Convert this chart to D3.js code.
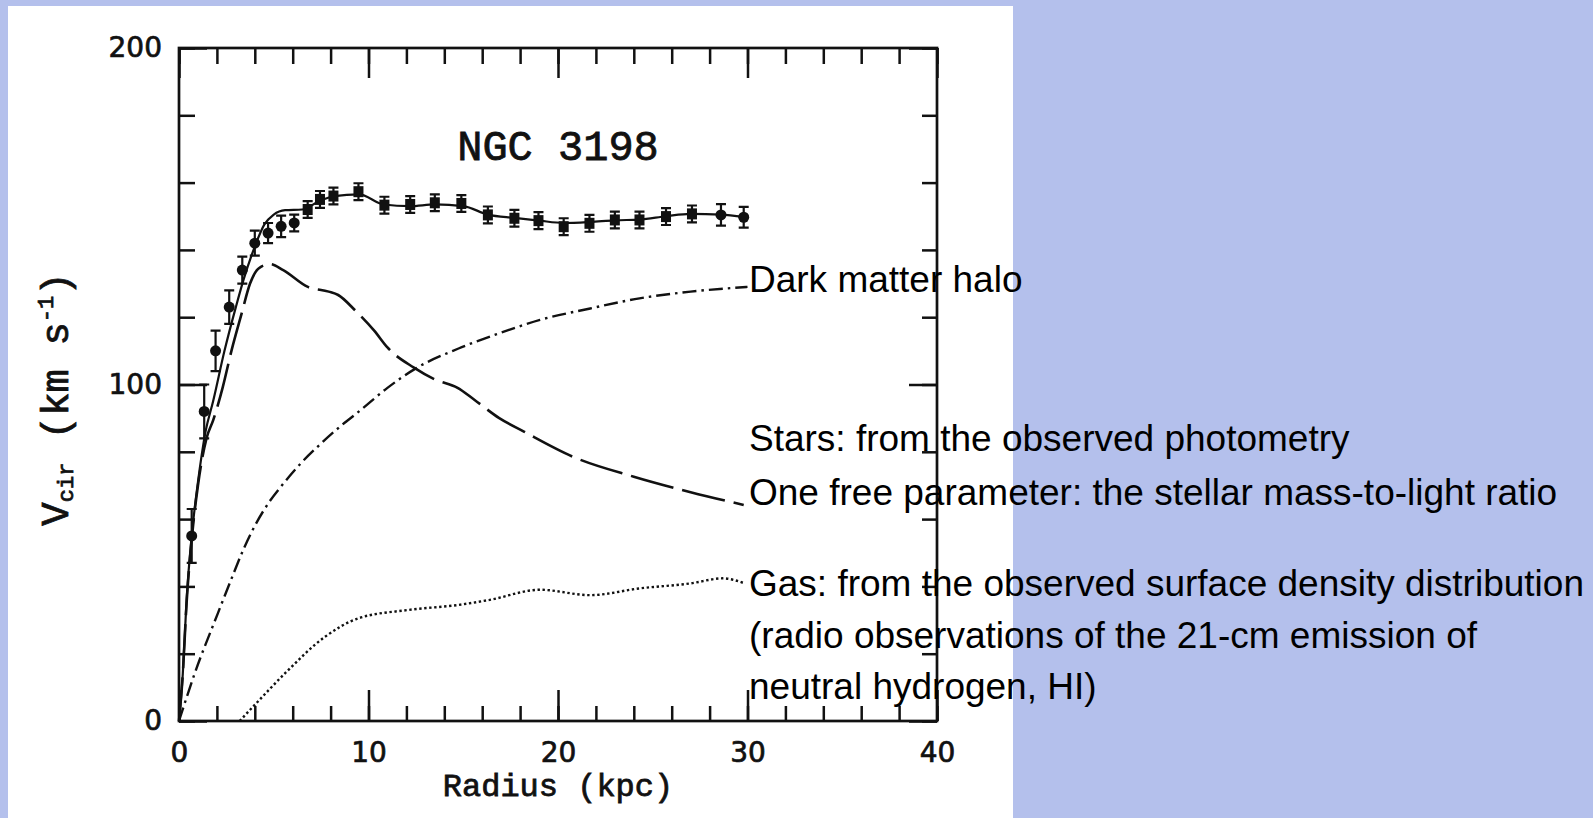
<!DOCTYPE html>
<html>
<head>
<meta charset="utf-8">
<script src="https://cdn.jsdelivr.net/npm/d3@7/dist/d3.min.js"></script>
<style>
  html, body { margin: 0; padding: 0; background: #b4c0ec; }
  svg { display: block; }
</style>
</head>
<body>
<script>
// observed rotation curve of NGC 3198 (radius in kpc, velocity in km/s)
const obsR = [0.67, 1.33, 1.93, 2.65, 3.34, 4.0, 4.7, 5.39, 6.08,
  6.79, 7.44, 8.15, 9.47, 10.84, 12.2, 13.5, 14.9, 16.3, 17.7, 18.97, 20.3,
  21.66, 23.0, 24.3, 25.7, 27.07, 28.6, 29.8]
const obsV = [55, 92, 110, 123, 134, 142, 145, 147, 148,
  152, 155, 156, 157.3, 153.3, 153.5, 154, 153.8, 150.4, 149.4, 148.7, 146.9,
  147.9, 148.9, 148.9, 149.9, 150.7, 150.4, 149.7]
const obsErr = [8, 8, 6, 5, 4, 3.7, 3, 3.2, 2.5,
  2.5, 2.5, 2.5, 2.5, 2.5, 2.5, 2.5, 2.5, 2.5, 2.5, 2.5, 2.5,
  2.5, 2.5, 2.5, 2.5, 2.5, 3.2, 3.1]
// o = circle, s = square
const obsMarker = ['o', 'o', 'o', 'o', 'o', 'o', 'o', 'o', 'o',
  's', 's', 's', 's', 's', 's', 's', 's', 's', 's', 's', 's',
  's', 's', 's', 's', 's', 'o', 'o']

// model curves
const totalR = [0, 0.2, 0.4, 0.67, 1.0, 1.4, 1.8, 2.4, 3.0, 3.4, 4.0, 4.5, 5.0, 5.6, 6.5, 7.4, 8.2, 9.5, 10.8, 12.2, 13.5, 15.0, 16.3, 17.7, 19.0, 20.3, 21.7, 23.0, 24.3, 25.7, 27.0, 28.6, 29.8]
const totalV = [0, 14, 36, 55, 71, 86, 95, 110, 123, 131, 141, 147.5, 150.5, 151.8, 152, 154.5, 156, 156.5, 153.5, 153, 153.5, 153, 150.5, 149.5, 148.7, 148, 148.3, 148.8, 149, 150, 150.7, 150.5, 149.8]

const starsR = [0, 0.2, 0.4, 0.67, 1.0, 1.45, 1.81, 2.3, 2.78, 3.3, 3.75, 4.2, 4.8, 5.5, 6.8, 7.9, 8.4, 9.3, 10.3, 11.0, 12.4, 13.5, 14.7, 15.6, 16.9, 18.2, 20.8, 24.0, 27.0, 29.8]
const starsV = [0, 14, 35, 54, 70, 84, 89.5, 99, 110.3, 121, 130, 134.5, 135.8, 134, 129, 127.6, 126.6, 122, 116, 111, 105, 101.5, 99, 95.4, 90, 86, 78.5, 72.6, 68, 64.2]

const haloR = [0, 0.82, 2.05, 2.75, 3.4, 4.0, 4.75, 5.5, 6.5, 7.5, 8.5, 9.5, 11.0, 12.5, 14.75, 16.9, 19.05, 21.7, 24.3, 27.0, 30.0]
const haloV = [0, 14, 32, 42, 51, 58, 65, 70.5, 77, 82.5, 87.5, 92, 99, 104.8, 110.7, 115.2, 119.2, 122.6, 125.6, 127.6, 129]

const gasR = [3.2, 4.0, 5.6, 7.7, 9.45, 12.1, 14.75, 16.4, 19.05, 21.7, 24.3, 27.0, 28.7, 29.8]
const gasV = [0, 4.8, 14.2, 25, 30.5, 33, 34.5, 36, 39, 37.4, 39.4, 40.9, 42.4, 41]

const xMajor = [0, 10, 20, 30, 40]
const yMajor = [0, 100, 200]

const noteLines = [
  'Dark matter halo',
  'Stars: from the observed photometry',
  'One free parameter: the stellar mass-to-light ratio',
  'Gas: from the observed surface density distribution',
  '(radio observations of the 21-cm emission of',
  'neutral hydrogen, HI)'
]

const W = 1593
const H = 818

const svg = d3.select('body').append('svg')
  .attr('width', W)
  .attr('height', H)

// white panel of the scanned figure
svg.append('rect')
  .attr('x', 8).attr('y', 6)
  .attr('width', 1005).attr('height', H - 6)
  .attr('fill', '#fff')

const x = d3.scaleLinear().domain([0, 40]).range([179, 937])
const y = d3.scaleLinear().domain([0, 200]).range([721, 48])

const ink = '#111'
const tickFont = 'DejaVu Sans, sans-serif'
const typeFont = 'Liberation Mono, Courier New, monospace'

function styleAxis (g) {
  g.select('.domain').remove()
  g.selectAll('.tick line').attr('stroke', ink).attr('stroke-width', 2.5)
  g.selectAll('.tick text')
    .attr('fill', ink)
    .attr('stroke', ink)
    .attr('stroke-width', 0.7)
    .style('font-family', tickFont)
    .style('font-size', '28px')
}

// minor ticks all point inward
svg.append('g').attr('transform', `translate(0,${y(0)})`)
  .call(d3.axisBottom(x).tickValues(d3.range(0, 41, 2)).tickSize(-15).tickFormat(''))
  .call(styleAxis)
svg.append('g').attr('transform', `translate(0,${y(200)})`)
  .call(d3.axisTop(x).tickValues(d3.range(0, 41, 2)).tickSize(-16).tickFormat(''))
  .call(styleAxis)
svg.append('g').attr('transform', `translate(${x(0)},0)`)
  .call(d3.axisLeft(y).tickValues(d3.range(0, 201, 20)).tickSize(-16).tickFormat(''))
  .call(styleAxis)
svg.append('g').attr('transform', `translate(${x(40)},0)`)
  .call(d3.axisRight(y).tickValues(d3.range(0, 201, 20)).tickSize(-15).tickFormat(''))
  .call(styleAxis)

// major ticks
svg.append('g').attr('transform', `translate(0,${y(0)})`)
  .call(d3.axisBottom(x).tickValues(xMajor).tickSize(-31).tickPadding(21).tickFormat(d3.format('d')))
  .call(styleAxis)
svg.append('g').attr('transform', `translate(0,${y(200)})`)
  .call(d3.axisTop(x).tickValues(xMajor).tickSize(-30).tickFormat(''))
  .call(styleAxis)
svg.append('g').attr('transform', `translate(${x(0)},0)`)
  .call(d3.axisLeft(y).tickValues(yMajor).tickSize(-28).tickPadding(17).tickFormat(d3.format('d')))
  .call(styleAxis)
svg.append('g').attr('transform', `translate(${x(40)},0)`)
  .call(d3.axisRight(y).tickValues(yMajor).tickSize(-28).tickFormat(''))
  .call(styleAxis)

// frame
svg.append('rect')
  .attr('x', x(0)).attr('y', y(200))
  .attr('width', x(40) - x(0)).attr('height', y(0) - y(200))
  .attr('fill', 'none')
  .attr('stroke', ink)
  .attr('stroke-width', 2.7)

// model curves
const line = d3.line()
  .x(d => x(d[0]))
  .y(d => y(d[1]))
  .curve(d3.curveMonotoneX)

const curves = [
  { r: gasR, v: gasV, dash: '2.4 2.6', width: 2.4 },
  { r: haloR, v: haloV, dash: '14 5 2.5 5', width: 2.4 },
  { r: starsR, v: starsV, dash: '44 9', width: 2.6 },
  { r: totalR, v: totalV, dash: null, width: 2.2 }
]

svg.selectAll('.curve')
  .data(curves)
  .enter().append('path')
  .attr('class', 'curve')
  .attr('d', d => line(d3.zip(d.r, d.v)))
  .attr('fill', 'none')
  .attr('stroke', ink)
  .attr('stroke-width', d => d.width)
  .attr('stroke-dasharray', d => d.dash)

// observed points with error bars
const obs = obsR.map((r, i) => ({ r: r, v: obsV[i], e: obsErr[i], m: obsMarker[i] }))

const pts = svg.selectAll('.obs')
  .data(obs)
  .enter().append('g')
  .attr('class', 'obs')
  .attr('transform', d => `translate(${x(d.r)},${y(d.v)})`)

pts.append('path')
  .attr('d', d => {
    let top = y(d.v + d.e) - y(d.v)
    let bot = y(d.v - d.e) - y(d.v)
    return `M0,${top}V${bot}M-5,${top}H5M-5,${bot}H5`
  })
  .attr('stroke', ink)
  .attr('stroke-width', 2.2)
  .attr('fill', 'none')

pts.filter(d => d.m === 'o').append('circle')
  .attr('r', 5.5)
  .attr('fill', ink)

pts.filter(d => d.m === 's').append('rect')
  .attr('x', -5).attr('y', -5.5)
  .attr('width', 10).attr('height', 11)
  .attr('fill', ink)

// titles
function typewriter (sel) {
  sel.attr('fill', ink)
    .attr('stroke', ink)
    .attr('stroke-width', 0.8)
    .style('font-family', typeFont)
}

svg.append('text')
  .attr('x', x(20)).attr('y', 160)
  .attr('text-anchor', 'middle')
  .call(typewriter)
  .style('font-size', '42px')
  .text('NGC 3198')

svg.append('text')
  .attr('x', x(20)).attr('y', 796)
  .attr('text-anchor', 'middle')
  .call(typewriter)
  .style('font-size', '32px')
  .text('Radius (kpc)')

const yTitle = svg.append('text')
  .attr('transform', 'translate(68,399) rotate(-90)')
  .attr('text-anchor', 'middle')
  .call(typewriter)
  .style('font-size', '39px')
yTitle.append('tspan').text('V')
yTitle.append('tspan').attr('dy', 5).style('font-size', '22px').text('cir')
yTitle.append('tspan').attr('dy', -5).text(' (km s')
yTitle.append('tspan').attr('dy', -15).style('font-size', '22px').text('-1')
yTitle.append('tspan').attr('dy', 15).text(')')

// annotations next to the curve ends
const noteY = [292, 451, 505, 596, 648, 699]
svg.selectAll('.note')
  .data(noteLines)
  .enter().append('text')
  .attr('class', 'note')
  .attr('x', 749)
  .attr('y', (d, i) => noteY[i])
  .attr('fill', '#000')
  .style('font-family', 'Liberation Sans, Arial, sans-serif')
  .style('font-size', '37px')
  .text(d => d)
</script>
</body>
</html>
